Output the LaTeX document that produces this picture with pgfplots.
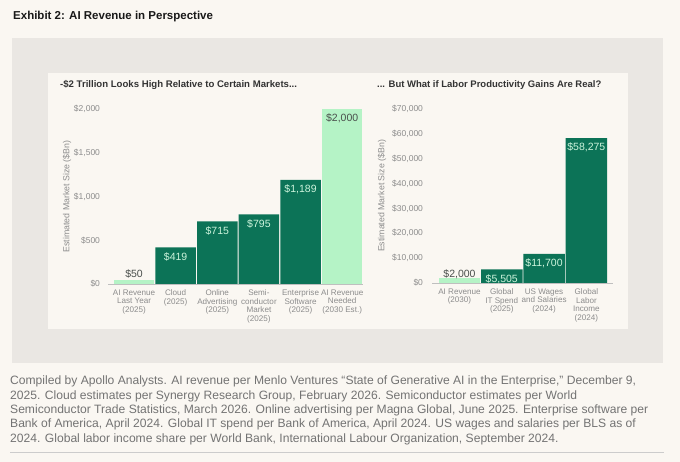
\documentclass[border=0pt]{standalone}
\usepackage{pgfplots}
\pgfplotsset{compat=1.18}
\usepackage{fontspec}
\setmainfont{Liberation Sans}
\definecolor{bg}{HTML}{FAF7F2}
\definecolor{panel}{HTML}{EAE7E3}
\definecolor{darkg}{HTML}{0C7357}
\definecolor{lightg}{HTML}{B5F3C6}
\definecolor{mint}{HTML}{CDF4DC}
\definecolor{ticktxt}{HTML}{8C8C8C}
\definecolor{titletxt}{HTML}{333333}
\definecolor{valdark}{HTML}{4A4F4C}
\begin{document}
\begin{tikzpicture}[x=1pt,y=1pt]
\fill[bg] (0,0) rectangle (680,-462);
\path[use as bounding box] (0,0) rectangle (680,-462);
\fill[panel] (12,-38) rectangle (663,-363);
\fill[bg] (48,-73) rectangle (628,-329);
\draw[color=black!20, line width=1pt] (10,-452) -- (664,-452);
\coordinate (LA) at (108,-284);
\coordinate (RA) at (432,-283);
\node[anchor=west, inner sep=0pt, font=\fontsize{11.5}{13}\selectfont\bfseries, text=black!90] at (13,-17) {Exhibit 2: AI Revenue in Perspective};
\node[anchor=west, inner sep=0pt, font=\fontsize{9.6}{11}\selectfont\bfseries, text=titletxt] at (60,-85) {-\$2 Trillion Looks High Relative to Certain Markets...};
\node[anchor=west, inner sep=0pt, font=\fontsize{9.5}{11}\selectfont\bfseries, text=titletxt] at (377,-85) {... But What if Labor Productivity Gains Are Real?};
\node[anchor=north west, inner sep=0pt, align=left, font=\fontsize{12.1}{14.3}\selectfont, text=black!55] at (10,-376) {Compiled by Apollo Analysts. AI revenue per Menlo Ventures “State of Generative AI in the Enterprise,” December 9,\\2025. Cloud estimates per Synergy Research Group, February 2026. Semiconductor estimates per World\\Semiconductor Trade Statistics, March 2026. Online advertising per Magna Global, June 2025. Enterprise software per\\Bank of America, April 2024. Global IT spend per Bank of America, April 2024. US wages and salaries per BLS as of\\2024. Global labor income share per World Bank, International Labour Organization, September 2024.};
\pgfplotsset{
  mystyle/.style={
    scale only axis, clip=false,
    axis lines=left,
    x axis line style={-, draw=black!25, line width=0.8pt},
    y axis line style={draw=none},
    tick style={draw=none},
    major tick length=0pt,
    scaled y ticks=false,
    /pgf/number format/assume math mode=true,
    /pgf/number format/1000 sep={,},
    ymin=0,
    ybar, bar shift=0pt,
    yticklabel={\$\pgfmathprintnumber[fixed,precision=0]{\tick}},
    yticklabel style={font=\fontsize{8.5}{10}\selectfont, text=ticktxt},
    xticklabel style={font=\fontsize{8.1}{8.6}\selectfont, text=ticktxt, align=center, anchor=north, yshift=-2pt},
    ylabel style={font=\fontsize{8.8}{10}\selectfont, text=ticktxt},
    nodes near coords={\$\pgfmathprintnumber[fixed,precision=0]{\pgfplotspointmeta}},
  },
  inside/.style={every node near coord/.append style={font=\fontsize{10.5}{12}\selectfont, anchor=center, yshift=-9.5pt, text=#1}},
  above/.style={every node near coord/.append style={font=\fontsize{10.5}{12}\selectfont, anchor=center, yshift=#1, text=valdark}},
}
\begin{axis}[mystyle,
  at={(LA)}, anchor=south west,
  width=255pt, height=175pt,
  xmin=-0.625, xmax=5.5,
  ymax=2000, ytick={0,500,1000,1500,2000},
  bar width=40.5pt,
  yticklabel style={xshift=-4.5pt},
  xtick={0,1,2,3,4,5},
  xticklabels={{AI Revenue\\Last Year\\(2025)},{Cloud\\(2025)},{Online\\Advertising\\(2025)},{Semi-\\conductor\\Market\\(2025)},{Enterprise\\Software\\(2025)},{AI Revenue\\Needed\\(2030 Est.)}},
  ylabel={Estimated Market Size (\$Bn)},
  ylabel style={at={(axis description cs:-0.161,0.5)}, anchor=center},
]
\addplot[fill=lightg, draw=none, above=6pt] coordinates {(0,50)};
\addplot[fill=darkg, draw=none, inside=mint] coordinates {(1,419) (2,715) (3,795) (4,1189)};
\addplot[fill=lightg, draw=none, inside=valdark] coordinates {(5,2000)};
\end{axis}
\begin{axis}[mystyle,
  at={(RA)}, anchor=south west,
  width=181pt, height=174pt,
  xmin=-0.65, xmax=3.63,
  ymax=70000, ytick={0,10000,20000,30000,40000,50000,60000,70000},
  bar width=41.5pt,
  yticklabel style={xshift=-5.5pt},
  xtick={0,1,2,3},
  xticklabels={{AI Revenue\\(2030)},{Global\\IT Spend\\(2025)},{US Wages\\and Salaries\\(2024)},{Global\\Labor\\Income\\(2024)}},
  ylabel={Estimated Market Size (\$Bn)},
  ylabel style={at={(axis description cs:-0.276,0.5)}, anchor=center},
]
\addplot[fill=lightg, draw=none, above=4pt] coordinates {(0,2000)};
\addplot[fill=darkg, draw=none, inside=mint] coordinates {(1,5505) (2,11700) (3,58275)};
\end{axis}
\end{tikzpicture}
\end{document}
